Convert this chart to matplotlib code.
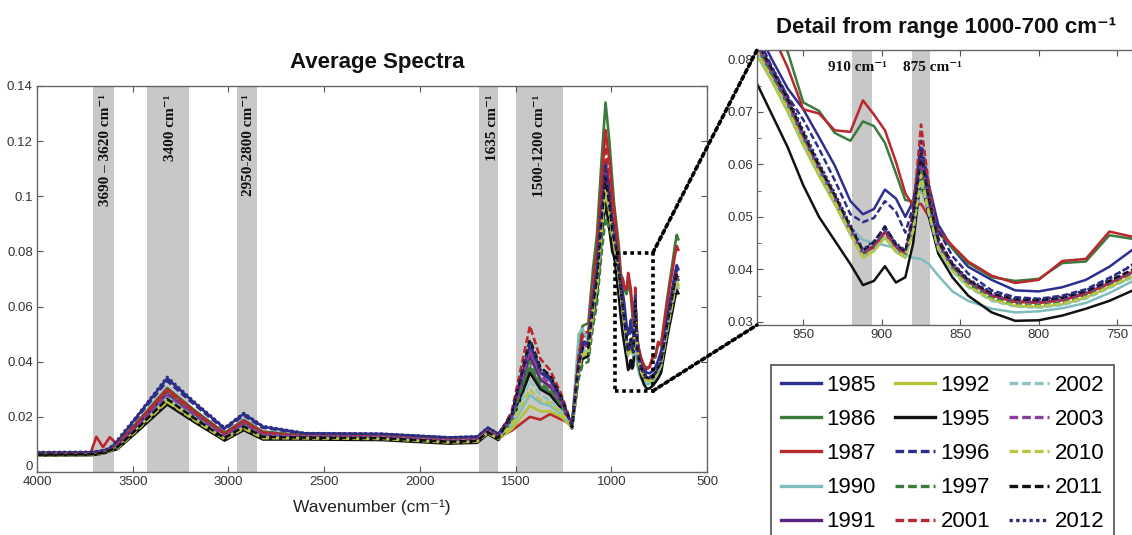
import numpy as np
import matplotlib
matplotlib.use('Agg')
import matplotlib.pyplot as plt
import matplotlib.transforms as mtransforms
from matplotlib.patches import Rectangle, ConnectionPatch
from matplotlib.lines import Line2D

plt.rcParams['font.family'] = ['Liberation Sans', 'DejaVu Sans']
SERIF = ['Liberation Serif', 'DejaVu Serif']

# ---------------- data ----------------
years = ['1985', '1986', '1987', '1990', '1991', '1992', '1995',
         '1996', '1997', '2001', '2002', '2003', '2010', '2011', '2012']

colors = ['#2b2f8f', '#3d7a3d', '#b8282c', '#7fbcbc', '#5b2380', '#b4c23c', '#111111',
          '#2d2d8c', '#3d7a3d', '#b8282c', '#8cc4c4', '#8a3c9a', '#b8c640', '#111111', '#2d2d7a']

# 0 solid, 1 dashed, 2 dotted
style_ids = [0, 0, 0, 0, 0, 0, 0, 1, 1, 1, 1, 1, 1, 1, 2]

# wavenumber grid of the overview, 4000 -> 985 cm-1
wn_head = [4000, 3720, 3690, 3655, 3620, 3580, 3480, 3320, 3180, 3020, 2920, 2820,
           2600, 2200, 1850, 1700, 1645, 1590, 1520, 1425, 1370, 1320, 1260, 1205,
           1170, 1150, 1120, 1095, 1075, 1050, 1030, 1010, 995, 985]

head = {
    '1985': [0.0070, 0.0071, 0.0073, 0.0077, 0.0085, 0.0110, 0.0199, 0.0340, 0.0252, 0.0158, 0.0211, 0.0164,
             0.0140, 0.0138, 0.0125, 0.0128, 0.0160, 0.0138, 0.0205, 0.0450, 0.0360, 0.0335, 0.0260, 0.0168,
             0.0407, 0.0468, 0.0473, 0.0641, 0.0733, 0.0967, 0.1120, 0.1018, 0.0916, 0.0890],
    '1986': [0.0066, 0.0067, 0.0069, 0.0073, 0.0081, 0.0103, 0.0179, 0.0305, 0.0226, 0.0142, 0.0189, 0.0147,
             0.0133, 0.0131, 0.0118, 0.0121, 0.0153, 0.0131, 0.0185, 0.0380, 0.0310, 0.0290, 0.0235, 0.0175,
             0.0460, 0.0530, 0.0540, 0.0740, 0.0860, 0.1140, 0.1340, 0.1200, 0.1060, 0.0970],
    '1987': [0.0065, 0.0068, 0.0128, 0.0090, 0.0126, 0.0101, 0.0175, 0.0300, 0.0222, 0.0139, 0.0186, 0.0144,
             0.0128, 0.0126, 0.0112, 0.0115, 0.0146, 0.0125, 0.0150, 0.0200, 0.0190, 0.0210, 0.0190, 0.0172,
             0.0430, 0.0500, 0.0510, 0.0690, 0.0800, 0.1060, 0.1240, 0.1130, 0.1010, 0.0950],
    '1990': [0.0063, 0.0064, 0.0066, 0.0070, 0.0078, 0.0093, 0.0162, 0.0275, 0.0204, 0.0128, 0.0171, 0.0133,
             0.0128, 0.0126, 0.0113, 0.0116, 0.0147, 0.0126, 0.0165, 0.0280, 0.0250, 0.0240, 0.0210, 0.0165,
             0.0500, 0.0520, 0.0470, 0.0660, 0.0750, 0.0910, 0.1050, 0.0960, 0.0880, 0.0840],
    '1991': [0.0065, 0.0066, 0.0068, 0.0072, 0.0080, 0.0096, 0.0167, 0.0285, 0.0211, 0.0132, 0.0176, 0.0137,
             0.0130, 0.0128, 0.0115, 0.0118, 0.0150, 0.0128, 0.0195, 0.0420, 0.0335, 0.0310, 0.0250, 0.0163,
             0.0400, 0.0460, 0.0465, 0.0630, 0.0720, 0.0950, 0.1100, 0.1000, 0.0900, 0.0845],
    '1992': [0.0062, 0.0063, 0.0065, 0.0069, 0.0077, 0.0088, 0.0153, 0.0260, 0.0194, 0.0122, 0.0162, 0.0126,
             0.0122, 0.0120, 0.0107, 0.0110, 0.0142, 0.0120, 0.0155, 0.0240, 0.0220, 0.0220, 0.0200, 0.0160,
             0.0370, 0.0420, 0.0430, 0.0580, 0.0660, 0.0870, 0.1000, 0.0920, 0.0840, 0.0800],
    '1995': [0.0060, 0.0061, 0.0063, 0.0067, 0.0075, 0.0083, 0.0144, 0.0245, 0.0182, 0.0114, 0.0152, 0.0118,
             0.0118, 0.0116, 0.0103, 0.0106, 0.0138, 0.0116, 0.0180, 0.0360, 0.0300, 0.0280, 0.0230, 0.0158,
             0.0360, 0.0410, 0.0420, 0.0560, 0.0640, 0.0850, 0.0980, 0.0880, 0.0800, 0.0780],
    '1996': [0.0070, 0.0071, 0.0073, 0.0077, 0.0085, 0.0112, 0.0194, 0.0330, 0.0245, 0.0154, 0.0205, 0.0160,
             0.0139, 0.0137, 0.0124, 0.0127, 0.0159, 0.0137, 0.0205, 0.0460, 0.0370, 0.0340, 0.0265, 0.0168,
             0.0410, 0.0470, 0.0480, 0.0650, 0.0740, 0.0980, 0.1130, 0.1030, 0.0920, 0.0880],
    '1997': [0.0065, 0.0066, 0.0068, 0.0072, 0.0080, 0.0098, 0.0170, 0.0290, 0.0215, 0.0135, 0.0180, 0.0140,
             0.0130, 0.0128, 0.0115, 0.0118, 0.0150, 0.0128, 0.0190, 0.0400, 0.0320, 0.0300, 0.0240, 0.0160,
             0.0340, 0.0390, 0.0400, 0.0530, 0.0610, 0.0800, 0.0920, 0.0880, 0.0850, 0.0835],
    '2001': [0.0066, 0.0067, 0.0069, 0.0073, 0.0081, 0.0100, 0.0173, 0.0295, 0.0219, 0.0138, 0.0184, 0.0143,
             0.0131, 0.0129, 0.0116, 0.0119, 0.0151, 0.0129, 0.0220, 0.0530, 0.0410, 0.0370, 0.0280, 0.0170,
             0.0430, 0.0490, 0.0500, 0.0670, 0.0770, 0.1020, 0.1180, 0.1070, 0.0960, 0.0880],
    '2002': [0.0063, 0.0064, 0.0066, 0.0070, 0.0078, 0.0091, 0.0158, 0.0270, 0.0200, 0.0126, 0.0167, 0.0130,
             0.0127, 0.0125, 0.0112, 0.0115, 0.0147, 0.0125, 0.0175, 0.0330, 0.0280, 0.0260, 0.0220, 0.0162,
             0.0380, 0.0440, 0.0440, 0.0600, 0.0680, 0.0900, 0.1040, 0.0950, 0.0870, 0.0840],
    '2003': [0.0064, 0.0065, 0.0067, 0.0071, 0.0079, 0.0095, 0.0164, 0.0280, 0.0208, 0.0130, 0.0174, 0.0135,
             0.0129, 0.0127, 0.0114, 0.0117, 0.0149, 0.0127, 0.0200, 0.0440, 0.0350, 0.0320, 0.0250, 0.0164,
             0.0390, 0.0450, 0.0460, 0.0620, 0.0710, 0.0930, 0.1080, 0.0980, 0.0890, 0.0845],
    '2010': [0.0061, 0.0062, 0.0064, 0.0068, 0.0076, 0.0086, 0.0150, 0.0255, 0.0189, 0.0119, 0.0158, 0.0123,
             0.0122, 0.0120, 0.0107, 0.0110, 0.0142, 0.0120, 0.0170, 0.0300, 0.0260, 0.0250, 0.0215, 0.0161,
             0.0370, 0.0430, 0.0430, 0.0580, 0.0670, 0.0880, 0.1020, 0.0940, 0.0860, 0.0830],
    '2011': [0.0063, 0.0064, 0.0066, 0.0070, 0.0078, 0.0090, 0.0155, 0.0265, 0.0196, 0.0123, 0.0165, 0.0128,
             0.0125, 0.0123, 0.0110, 0.0113, 0.0145, 0.0123, 0.0210, 0.0480, 0.0380, 0.0350, 0.0270, 0.0163,
             0.0390, 0.0450, 0.0450, 0.0610, 0.0700, 0.0920, 0.1070, 0.0970, 0.0880, 0.0840],
    '2012': [0.0072, 0.0073, 0.0075, 0.0079, 0.0087, 0.0117, 0.0202, 0.0345, 0.0256, 0.0161, 0.0214, 0.0167,
             0.0141, 0.0139, 0.0126, 0.0129, 0.0161, 0.0139, 0.0210, 0.0470, 0.0370, 0.0345, 0.0265, 0.0167,
             0.0400, 0.0460, 0.0470, 0.0640, 0.0730, 0.0960, 0.1110, 0.1010, 0.0910, 0.0855],
}

# detail range 980 -> 740 cm-1 (also used in the overview)
wn_detail = [980, 970, 960, 950, 940, 930, 920, 912, 905, 898, 891, 885, 880,
             875, 870, 864, 855, 845, 830, 815, 800, 785, 770, 755, 740]

detail = {
    '1985': [0.0860, 0.0800, 0.0745, 0.0705, 0.0652, 0.0598, 0.0530, 0.0505, 0.0515, 0.0552, 0.0535, 0.0500, 0.0530,
             0.0620, 0.0560, 0.0485, 0.0440, 0.0405, 0.0380, 0.0360, 0.0358, 0.0366, 0.0380, 0.0405, 0.0438],
    '1986': [0.0940, 0.0880, 0.0815, 0.0718, 0.0702, 0.0660, 0.0645, 0.0682, 0.0673, 0.0641, 0.0583, 0.0532, 0.0530,
             0.0560, 0.0510, 0.0470, 0.0440, 0.0412, 0.0385, 0.0378, 0.0382, 0.0412, 0.0415, 0.0465, 0.0458],
    '1987': [0.0920, 0.0850, 0.0785, 0.0705, 0.0697, 0.0665, 0.0662, 0.0722, 0.0695, 0.0665, 0.0605, 0.0545, 0.0520,
             0.0525, 0.0500, 0.0475, 0.0445, 0.0415, 0.0388, 0.0374, 0.0380, 0.0416, 0.0420, 0.0472, 0.0462],
    '1990': [0.0820, 0.0770, 0.0720, 0.0660, 0.0600, 0.0540, 0.0480, 0.0456, 0.0450, 0.0446, 0.0440, 0.0428, 0.0422,
             0.0420, 0.0410, 0.0388, 0.0358, 0.0340, 0.0325, 0.0318, 0.0320, 0.0326, 0.0336, 0.0355, 0.0378],
    '1991': [0.0830, 0.0775, 0.0718, 0.0652, 0.0592, 0.0536, 0.0475, 0.0430, 0.0445, 0.0472, 0.0442, 0.0430, 0.0490,
             0.0600, 0.0525, 0.0448, 0.0405, 0.0376, 0.0350, 0.0339, 0.0337, 0.0342, 0.0354, 0.0374, 0.0395],
    '1992': [0.0810, 0.0758, 0.0700, 0.0636, 0.0578, 0.0524, 0.0466, 0.0422, 0.0435, 0.0460, 0.0433, 0.0422, 0.0470,
             0.0580, 0.0510, 0.0440, 0.0398, 0.0368, 0.0342, 0.0330, 0.0328, 0.0333, 0.0346, 0.0366, 0.0386],
    '1995': [0.0757, 0.0695, 0.0633, 0.0560, 0.0500, 0.0455, 0.0410, 0.0370, 0.0378, 0.0406, 0.0375, 0.0385, 0.0450,
             0.0580, 0.0500, 0.0430, 0.0385, 0.0350, 0.0318, 0.0302, 0.0303, 0.0312, 0.0325, 0.0340, 0.0360],
    '1996': [0.0850, 0.0785, 0.0730, 0.0685, 0.0630, 0.0570, 0.0505, 0.0490, 0.0498, 0.0530, 0.0510, 0.0470, 0.0520,
             0.0645, 0.0560, 0.0475, 0.0425, 0.0392, 0.0360, 0.0347, 0.0344, 0.0350, 0.0362, 0.0384, 0.0408],
    '1997': [0.0825, 0.0770, 0.0712, 0.0648, 0.0588, 0.0532, 0.0472, 0.0428, 0.0440, 0.0466, 0.0438, 0.0426, 0.0485,
             0.0590, 0.0520, 0.0445, 0.0402, 0.0372, 0.0346, 0.0334, 0.0332, 0.0337, 0.0349, 0.0369, 0.0390],
    '2001': [0.0835, 0.0780, 0.0722, 0.0656, 0.0594, 0.0538, 0.0478, 0.0426, 0.0442, 0.0470, 0.0440, 0.0432, 0.0510,
             0.0676, 0.0560, 0.0460, 0.0410, 0.0378, 0.0350, 0.0338, 0.0336, 0.0341, 0.0353, 0.0373, 0.0395],
    '2002': [0.0815, 0.0760, 0.0704, 0.0640, 0.0582, 0.0528, 0.0469, 0.0425, 0.0437, 0.0462, 0.0435, 0.0424, 0.0475,
             0.0570, 0.0505, 0.0438, 0.0396, 0.0366, 0.0340, 0.0329, 0.0327, 0.0332, 0.0344, 0.0364, 0.0385],
    '2003': [0.0832, 0.0778, 0.0720, 0.0654, 0.0594, 0.0538, 0.0477, 0.0432, 0.0447, 0.0476, 0.0445, 0.0432, 0.0495,
             0.0610, 0.0530, 0.0450, 0.0407, 0.0378, 0.0352, 0.0341, 0.0339, 0.0344, 0.0356, 0.0376, 0.0397],
    '2010': [0.0818, 0.0762, 0.0706, 0.0642, 0.0584, 0.0530, 0.0470, 0.0424, 0.0436, 0.0462, 0.0436, 0.0425, 0.0474,
             0.0580, 0.0508, 0.0440, 0.0398, 0.0368, 0.0343, 0.0331, 0.0330, 0.0335, 0.0347, 0.0367, 0.0388],
    '2011': [0.0838, 0.0782, 0.0725, 0.0660, 0.0598, 0.0542, 0.0482, 0.0436, 0.0452, 0.0482, 0.0448, 0.0434, 0.0500,
             0.0620, 0.0535, 0.0455, 0.0410, 0.0380, 0.0354, 0.0343, 0.0341, 0.0346, 0.0358, 0.0378, 0.0400],
    '2012': [0.0842, 0.0786, 0.0730, 0.0665, 0.0603, 0.0546, 0.0485, 0.0438, 0.0454, 0.0480, 0.0450, 0.0436, 0.0505,
             0.0630, 0.0540, 0.0458, 0.0412, 0.0382, 0.0356, 0.0345, 0.0343, 0.0348, 0.0360, 0.0381, 0.0410],
}

# end of the spectra, 725 -> 650 cm-1
wn_tail = [725, 710, 695, 680, 668, 658, 650]

tail = {
    '1985': [0.0494, 0.0558, 0.0616, 0.0670, 0.0718, 0.0750, 0.0737],
    '1986': [0.0538, 0.0619, 0.0691, 0.0760, 0.0820, 0.0860, 0.0844],
    '1987': [0.0534, 0.0605, 0.0670, 0.0731, 0.0784, 0.0820, 0.0806],
    '1990': [0.0438, 0.0499, 0.0553, 0.0605, 0.0650, 0.0680, 0.0668],
    '1991': [0.0458, 0.0521, 0.0578, 0.0631, 0.0679, 0.0710, 0.0697],
    '1992': [0.0446, 0.0507, 0.0562, 0.0614, 0.0660, 0.0690, 0.0678],
    '1995': [0.0420, 0.0480, 0.0534, 0.0585, 0.0630, 0.0660, 0.0648],
    '1996': [0.0474, 0.0541, 0.0601, 0.0657, 0.0707, 0.0740, 0.0727],
    '1997': [0.0452, 0.0514, 0.0570, 0.0623, 0.0669, 0.0700, 0.0688],
    '2001': [0.0460, 0.0525, 0.0584, 0.0639, 0.0688, 0.0720, 0.0707],
    '2002': [0.0446, 0.0507, 0.0562, 0.0614, 0.0660, 0.0690, 0.0678],
    '2003': [0.0458, 0.0521, 0.0578, 0.0631, 0.0679, 0.0710, 0.0697],
    '2010': [0.0448, 0.0509, 0.0563, 0.0615, 0.0660, 0.0690, 0.0678],
    '2011': [0.0464, 0.0528, 0.0586, 0.0640, 0.0688, 0.0720, 0.0707],
    '2012': [0.0476, 0.0542, 0.0601, 0.0658, 0.0707, 0.0740, 0.0727],
}

# shaded bands (cm-1) and their labels
bands_main = [(3705, 3600), (3425, 3205), (2955, 2850), (1690, 1590), (1500, 1252)]
band_labels = ['3690 \u2013 3620 cm\u207b\u00b9', '3400 cm\u207b\u00b9', '2950-2800 cm\u207b\u00b9',
               '1635 cm\u207b\u00b9', '1500-1200 cm\u207b\u00b9']
band_label_x = [3643, 3300, 2896, 1618, 1373]

bands_detail = [(919, 906), (881, 869)]
detail_labels = ['910 cm\u207b\u00b9', '875 cm\u207b\u00b9']
detail_label_x = [915.5, 868]

zoom_box_wn = (981, 783)
zoom_box_abs = (0.0294, 0.0795)

# ---------------- figure ----------------
W, H = 1132, 535
fig = plt.figure(figsize=(W / 100, H / 100), dpi=100)

ax = fig.add_axes([37 / W, 1 - 472 / H, (707 - 37) / W, (472 - 86) / H])
ax2 = fig.add_axes([757 / W, 1 - 325 / H, (1140 - 757) / W, (325 - 50) / H])

line_styles = ['-', (0, (2.6, 1.2)), (0, (1, 1))]
band_color = '#c8c8c8'

# overview
for (a, b) in bands_main:
    ax.axvspan(a, b, color=band_color, lw=0, zorder=0)
for i, yr in enumerate(years):
    x = wn_head + wn_detail + wn_tail
    y = head[yr] + detail[yr] + tail[yr]
    ax.plot(x, y, color=colors[i], lw=1.9, ls=line_styles[style_ids[i]], zorder=2)

trans = mtransforms.blended_transform_factory(ax.transData, ax.transAxes)
for lab, xx in zip(band_labels, band_label_x):
    ax.text(xx, 0.978, lab, transform=trans, rotation=90, ha='center', va='top',
            fontsize=11, fontweight='bold', family=SERIF, color='#111111', zorder=3)

ax.set_xlim(4000, 500)
ax.set_ylim(0, 0.14)
ax.set_xticks([4000, 3500, 3000, 2500, 2000, 1500, 1000, 500])
ax.set_yticks([0, 0.02, 0.04, 0.06, 0.08, 0.1, 0.12, 0.14])
# the "0" is drawn by hand a bit higher so it does not sit on "4000"
ax.set_yticklabels(['', '0.02', '0.04', '0.06', '0.08', '0.1', '0.12', '0.14'])
ax.tick_params(direction='in', top=True, right=True, labelsize=9.5, length=4,
               color='#555555', labelcolor='#333333', pad=3)
ax.text(0, 0, '0', transform=mtransforms.offset_copy(ax.transAxes, fig, x=-4.5, y=5, units='dots'),
        ha='right', va='center', fontsize=9.5, color='#333333')
for s in ax.spines.values():
    s.set_color('#666666')
    s.set_linewidth(1.0)
ax.set_xlabel('Wavenumber (cm\u207b\u00b9)', fontsize=12.5, color='#222222', labelpad=8)

fig.text(377 / W, 1 - 62 / H, 'Average Spectra', ha='center', va='center',
         fontsize=16, fontweight='bold', color='#111111')

# zoom box + connectors
rect = Rectangle((zoom_box_wn[0], zoom_box_abs[0]), zoom_box_wn[1] - zoom_box_wn[0],
                 zoom_box_abs[1] - zoom_box_abs[0], fill=False, ec='black', lw=2.6,
                 ls=(0, (1, 1)), zorder=4)
ax.add_patch(rect)
for ya, yb in [(zoom_box_abs[1], 1), (zoom_box_abs[0], 0)]:
    con = ConnectionPatch(xyA=(zoom_box_wn[1], ya), coordsA=ax.transData,
                          xyB=(0, yb), coordsB=ax2.transAxes,
                          color='black', lw=2.6, ls=(0, (1, 1)), zorder=5)
    fig.add_artist(con)

# detail
for (a, b) in bands_detail:
    ax2.axvspan(a, b, color=band_color, lw=0, zorder=0)
handles = []
for i, yr in enumerate(years):
    ax2.plot(wn_detail, detail[yr], color=colors[i], lw=1.8,
             ls=line_styles[style_ids[i]], zorder=2)
    handles.append(Line2D([], [], color=colors[i], lw=2.4, ls=line_styles[style_ids[i]]))
for lab, xx in zip(detail_labels, detail_label_x):
    ax2.text(xx, 0.0785, lab, ha='center', va='center', fontsize=11,
             fontweight='bold', family=SERIF, color='#111111', zorder=3)

ax2.set_xlim(979.5, 735.5)
ax2.set_ylim(0.0294, 0.0818)
ax2.set_xticks([950, 900, 850, 800, 750])
ax2.set_yticks([0.03, 0.04, 0.05, 0.06, 0.07, 0.08])
ax2.set_yticklabels(['0.03', '0.04', '0.05', '0.06', '0.07', '0.08'])
ax2.set_yticks(np.arange(0.035, 0.08, 0.01), minor=True)
ax2.tick_params(direction='in', top=True, right=False, labelsize=9.5, length=4,
                color='#555555', labelcolor='#333333', pad=3)
ax2.tick_params(which='minor', direction='in', length=3, color='#555555')
for s in ax2.spines.values():
    s.set_color('#666666')
    s.set_linewidth(1.0)

fig.text(946 / W, 1 - 28 / H, 'Detail from range 1000-700 cm\u207b\u00b9', ha='center',
         va='center', fontsize=16, fontweight='bold', color='#111111')

leg = fig.legend(handles, years, loc='upper left', bbox_to_anchor=(771 / W, 1 - 365 / H),
                 ncol=3, fontsize=16, frameon=True, fancybox=False, edgecolor='#222222',
                 handlelength=1.8, handletextpad=0.25, columnspacing=0.85,
                 labelspacing=0.59, borderpad=0.45, borderaxespad=0)
leg.get_frame().set_linewidth(1.2)

fig.savefig('out.png', dpi=100)
